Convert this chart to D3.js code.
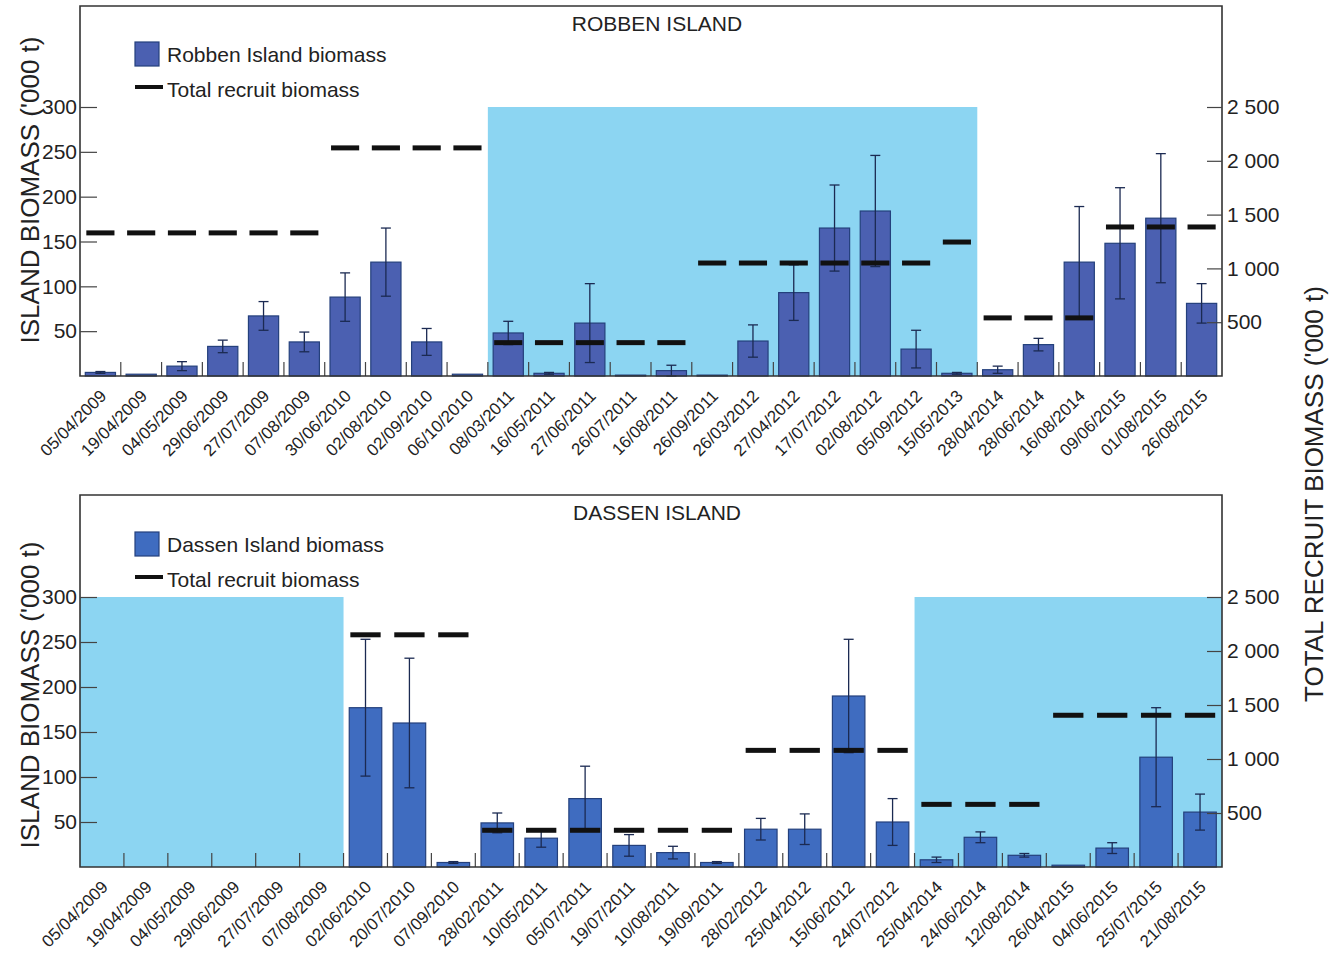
<!DOCTYPE html>
<html>
<head>
<meta charset="utf-8">
<script src="https://cdn.jsdelivr.net/npm/d3@7/dist/d3.min.js"></script>
<style>
  html, body { margin: 0; padding: 0; background: #fff; }
  svg { display: block; font-family: "Liberation Sans", Arial, Helvetica, sans-serif; }
</style>
</head>
<body>
<svg id="chart" width="1337" height="963"></svg>
<script>
// ---- Robben Island survey dates and values ----
const robbenDates = ["05/04/2009","19/04/2009","04/05/2009","29/06/2009","27/07/2009","07/08/2009",
  "30/06/2010","02/08/2010","02/09/2010","06/10/2010","08/03/2011","16/05/2011","27/06/2011",
  "26/07/2011","16/08/2011","26/09/2011","26/03/2012","27/04/2012","17/07/2012","02/08/2012",
  "05/09/2012","15/05/2013","28/04/2014","28/06/2014","16/08/2014","09/06/2015","01/08/2015","26/08/2015"];
// island biomass ('000 t) and the half-width of its error bar
const robbenBiomass = [4, 2, 11, 33, 67, 38, 88, 127, 38, 2, 48, 3, 59, 1, 6, 1, 39, 93, 165, 184, 30, 3, 7, 35, 127, 148, 176, 81];
const robbenError   = [1, 0, 5, 7, 16, 11, 27, 38, 15, 0, 13, 1, 44, 0, 6, 0, 18, 31, 48, 62, 21, 1, 4, 7, 62, 62, 72, 22];
// total recruit biomass ('000 t), right axis
const robbenRecruit = [1330, 1330, 1330, 1330, 1330, 1330, 2120, 2120, 2120, 2120, 310, 310, 310, 310, 310,
  1050, 1050, 1050, 1050, 1050, 1050, 1245, 540, 540, 540, 1385, 1385, 1385];
// periods shaded in blue (first and last survey of each)
const robbenShade = [["08/03/2011", "15/05/2013"]];

// ---- Dassen Island survey dates and values ----
const dassenDates = ["05/04/2009","19/04/2009","04/05/2009","29/06/2009","27/07/2009","07/08/2009",
  "02/06/2010","20/07/2010","07/09/2010","28/02/2011","10/05/2011","05/07/2011","19/07/2011",
  "10/08/2011","19/09/2011","28/02/2012","25/04/2012","15/06/2012","24/07/2012","25/04/2014",
  "24/06/2014","12/08/2014","26/04/2015","04/06/2015","25/07/2015","21/08/2015"];
const dassenBiomass = [null, null, null, null, null, null, 177, 160, 5, 49, 32, 76, 24, 16, 5, 42, 42, 190, 50, 8, 33, 13, 2, 21, 122, 61];
const dassenError   = [null, null, null, null, null, null, 76, 72, 1, 11, 10, 36, 12, 7, 1, 12, 17, 63, 26, 3, 6, 2, 0, 6, 55, 20];
const dassenRecruit = [null, null, null, null, null, null, 2150, 2150, 2150, 340, 340, 340, 340, 340, 340,
  1080, 1080, 1080, 1080, 580, 580, 580, 1405, 1405, 1405, 1405];
const dassenShade = [["05/04/2009", "07/08/2009"], ["25/04/2014", "21/08/2015"]];

// ---- axis ticks ----
const leftTicks = [50, 100, 150, 200, 250, 300];
const rightTicks = [500, 1000, 1500, 2000, 2500];
const leftMax = 300;
const rightMax = 2500;

const svg = d3.select("#chart");
const X0 = 80, X1 = 1222;
const spaceFmt = d3.formatLocale({ decimal: ".", thousands: "\u00a0", grouping: [3], currency: ["", ""] }).format(",d");

function drawPanel(cfg) {
  const g = svg.append("g");
  const x = d3.scaleBand().domain(cfg.dates).range([X0, X1]).paddingInner(0.26).paddingOuter(0.13);
  const yL = d3.scaleLinear().domain([0, leftMax]).range([cfg.zero, cfg.top300]);
  const yR = d3.scaleLinear().domain([0, rightMax]).range([cfg.zero, cfg.top300]);
  const step = x.step();
  const gap = (step - x.bandwidth()) / 2;
  const left = d => x(d) - gap;
  const center = d => x(d) + x.bandwidth() / 2;

  // shaded periods
  g.selectAll("rect.shade").data(cfg.shade).join("rect")
    .attr("class", "shade")
    .attr("x", d => left(d[0]))
    .attr("width", d => left(d[1]) + step - left(d[0]))
    .attr("y", yL(leftMax))
    .attr("height", yL(0) - yL(leftMax))
    .attr("fill", "#8cd5f2");

  const rows = cfg.dates.map((d, i) => ({ date: d, v: cfg.biomass[i], e: cfg.error[i], r: cfg.recruit[i] }));

  // island biomass bars
  g.selectAll("rect.bar").data(rows.filter(r => r.v != null)).join("rect")
    .attr("class", "bar")
    .attr("x", r => x(r.date))
    .attr("width", x.bandwidth())
    .attr("y", r => yL(r.v))
    .attr("height", r => yL(0) - yL(r.v))
    .attr("fill", cfg.barFill)
    .attr("stroke", "#24407c")
    .attr("stroke-width", 1.2);

  // error bars
  const eb = g.selectAll("g.err").data(rows.filter(r => r.v != null && r.e > 0)).join("g").attr("class", "err")
    .attr("stroke", "#1b2a52").attr("stroke-width", 1.3);
  eb.append("line")
    .attr("x1", r => center(r.date)).attr("x2", r => center(r.date))
    .attr("y1", r => yL(r.v + r.e)).attr("y2", r => yL(Math.max(0, r.v - r.e)));
  eb.append("line")
    .attr("x1", r => center(r.date) - 5).attr("x2", r => center(r.date) + 5)
    .attr("y1", r => yL(r.v + r.e)).attr("y2", r => yL(r.v + r.e));
  eb.append("line")
    .attr("x1", r => center(r.date) - 5).attr("x2", r => center(r.date) + 5)
    .attr("y1", r => yL(Math.max(0, r.v - r.e))).attr("y2", r => yL(Math.max(0, r.v - r.e)));

  // total recruit biomass dashes (right axis)
  const half = step * 0.345;
  g.selectAll("line.recruit").data(rows.filter(r => r.r != null)).join("line")
    .attr("class", "recruit")
    .attr("x1", r => center(r.date) - half).attr("x2", r => center(r.date) + half)
    .attr("y1", r => yR(r.r)).attr("y2", r => yR(r.r))
    .attr("stroke", "#111").attr("stroke-width", 5);

  // category separators along the baseline
  const bounds = cfg.dates.map(left).concat([left(cfg.dates[cfg.dates.length - 1]) + step]);
  g.selectAll("line.sep").data(bounds.slice(1, -1)).join("line")
    .attr("class", "sep")
    .attr("x1", d => d).attr("x2", d => d)
    .attr("y1", cfg.zero).attr("y2", cfg.zero - 14)
    .attr("stroke", "#444").attr("stroke-width", 1.2);

  // frame
  g.append("path")
    .attr("d", `M${X0},${cfg.zero}V${cfg.frameTop}H${X1}V${cfg.zero}Z`)
    .attr("fill", "none").attr("stroke", "#333").attr("stroke-width", 1.6);

  // left axis
  const ax = g.append("g").attr("transform", `translate(${X0},0)`)
    .call(d3.axisLeft(yL).tickValues(leftTicks).tickSize(-17).tickPadding(3));
  ax.select(".domain").remove();
  ax.selectAll(".tick line").attr("stroke", "#444").attr("stroke-width", 1.2);
  ax.selectAll(".tick text").attr("font-size", 21).attr("fill", "#222").attr("font-family", null);

  // right axis
  const ar = g.append("g").attr("transform", `translate(${X1},0)`)
    .call(d3.axisRight(yR).tickValues(rightTicks).tickSize(-15).tickPadding(5).tickFormat(spaceFmt));
  ar.select(".domain").remove();
  ar.selectAll(".tick line").attr("stroke", "#444").attr("stroke-width", 1.2);
  ar.selectAll(".tick text").attr("font-size", 21).attr("fill", "#222").attr("font-family", null);

  // date labels
  const axb = g.append("g").attr("transform", `translate(0,${cfg.zero})`)
    .call(d3.axisBottom(x).tickSize(0).tickPadding(0));
  axb.select(".domain").remove();
  axb.selectAll(".tick text")
    .attr("font-size", 17).attr("fill", "#222").attr("font-family", null)
    .attr("text-anchor", "end")
    .attr("x", 0).attr("y", 0).attr("dy", 0)
    .attr("transform", "translate(7,21) rotate(-45)");

  // panel title
  g.append("text").attr("x", 657).attr("y", cfg.titleY)
    .attr("text-anchor", "middle").attr("font-size", 21).attr("fill", "#222")
    .text(cfg.title);

  // legend
  g.append("rect").attr("x", 135).attr("y", cfg.legendY).attr("width", 24).attr("height", 24)
    .attr("fill", cfg.barFill).attr("stroke", "#24407c").attr("stroke-width", 1.2);
  g.append("text").attr("x", 167).attr("y", cfg.legendY + 20)
    .attr("font-size", 21).attr("fill", "#222").text(cfg.legendLabel);
  g.append("line").attr("x1", 135).attr("x2", 163)
    .attr("y1", cfg.legendY + 45).attr("y2", cfg.legendY + 45)
    .attr("stroke", "#111").attr("stroke-width", 4);
  g.append("text").attr("x", 167).attr("y", cfg.legendY + 55)
    .attr("font-size", 21).attr("fill", "#222").text("Total recruit biomass");

  // left axis title
  g.append("text")
    .attr("transform", `translate(39,${cfg.yTitleY}) rotate(-90)`)
    .attr("text-anchor", "middle").attr("font-size", 26).attr("fill", "#222")
    .text("ISLAND BIOMASS ('000 t)");
}

drawPanel({
  dates: robbenDates, biomass: robbenBiomass, error: robbenError, recruit: robbenRecruit,
  shade: robbenShade, frameTop: 6, zero: 376, top300: 107, titleY: 31,
  title: "ROBBEN ISLAND", legendLabel: "Robben Island biomass", legendY: 42,
  barFill: "#4b60b1", yTitleY: 190
});

drawPanel({
  dates: dassenDates, biomass: dassenBiomass, error: dassenError, recruit: dassenRecruit,
  shade: dassenShade, frameTop: 495, zero: 867, top300: 597, titleY: 520,
  title: "DASSEN ISLAND", legendLabel: "Dassen Island biomass", legendY: 532,
  barFill: "#3f6cc0", yTitleY: 695
});

// shared right axis title
svg.append("text")
  .attr("transform", "translate(1323,494) rotate(-90)")
  .attr("text-anchor", "middle").attr("font-size", 26).attr("fill", "#222")
  .text("TOTAL RECRUIT BIOMASS ('000 t)");
</script>
</body>
</html>
